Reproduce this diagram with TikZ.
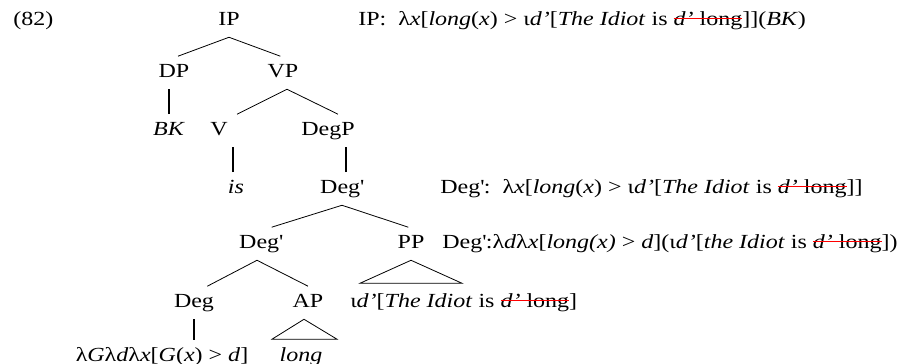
\documentclass[tikz,border=0pt]{standalone}
\usepackage{fontspec}
\setmainfont{Liberation Serif}[FakeStretch=1.2]
\newcommand\crossout[1]{\setbox0=\hbox{#1}\copy0\llap{\color{red}\rule[.3em]{\wd0}{.8pt}}}
\newcommand\dprime{Deg\textquotesingle}
\begin{document}
\begin{tikzpicture}[x=0.75pt,y=-0.75pt,font=\fontsize{15}{18}\selectfont,
  cat/.style={anchor=base,text height=9.9pt,text depth=3.5pt,inner xsep=1pt,inner ysep=5.5pt},
  note/.style={anchor=base west,inner sep=0pt},
  branch/.style={line width=.6pt},
  unary/.style={line width=1.3pt}]
\useasboundingbox (0,0) rectangle (910,364);
\node[note] (ex) at (13,26) {(82)};
\node[cat] (ip) at (229,25) {IP}; \node[note] (ipsem) at (358,25) {IP:\ \ λ\textit{x}[\textit{long}(\textit{x}) > ι\textit{d’}[\textit{The Idiot} is \crossout{\textit{d’} long}]](\textit{BK})};
\node[cat] (dp) at (174,77) {DP}; \node[cat] (vp) at (283,77) {VP};
\node[cat] (bk) at (169,135) {\textit{BK}}; \node[cat] (v) at (219,135) {V}; \node[cat] (degp) at (328,135) {DegP};
\node[cat] (is) at (236,193) {\textit{is}}; \node[cat] (dbar) at (342,193) {\dprime};
\node[note] (dbarsem) at (440,193) {\dprime:\ \ λ\textit{x}[\textit{long}(\textit{x}) > ι\textit{d’}[\textit{The Idiot} is \crossout{\textit{d’} long}]]};
\node[cat] (dbarl) at (261,248) {\dprime}; \node[cat] (pp) at (411,248) {PP};
\node[note] (dbarlsem) at (442,248) {\dprime:λ\textit{d}λ\textit{x}[\textit{long(x)} > \textit{d}](ι\textit{d’}[\textit{the Idiot} is \crossout{\textit{d’} long}])};
\node[cat] (deg) at (194,307) {Deg}; \node[cat] (ap) at (308,307) {AP};
\node[note] (ppsem) at (350,307) {ι\textit{d’}[\textit{The Idiot} is \crossout{\textit{d’} long}]};
\node[cat] (degsem) at (162,361) {λ\textit{G}λ\textit{d}λ\textit{x}[\textit{G}(\textit{x}) > \textit{d}]}; \node[cat] (long) at (301,361) {\textit{long}};
\draw[branch] ([xshift=3pt]dp.north) -- (ip.south) -- ([xshift=-2pt]vp.north);
\draw[branch] ([xshift=13.5pt]v.north) -- ([xshift=3pt]vp.south) -- ([xshift=7.5pt]degp.north);
\draw[branch] ([xshift=8pt]dbarl.north) -- (dbar.south) -- ([xshift=-2pt]pp.north);
\draw[branch] ([xshift=10pt]deg.north) -- ([xshift=-3pt]dbarl.south) -- (ap.north);
\draw[unary] (bk.north) -- (bk.north |- dp.south);
\draw[unary] ([xshift=-2pt]is.north) -- ([xshift=-2pt]is.north |- v.south);
\draw[unary] ([xshift=3pt]dbar.north) -- ([xshift=3pt]dbar.north |- degp.south);
\draw[unary] (deg.south) -- (deg.south |- degsem.north);
\draw[branch] ([xshift=-3pt]ap.south) -- ([shift={(36,-1)}]long.north) -- ([shift={(-29,-1)}]long.north) -- cycle;
\draw[branch] (pp.south) -- ([shift={(51,23)}]pp.south) -- ([shift={(-51,23)}]pp.south) -- cycle;
\end{tikzpicture}
\end{document}
